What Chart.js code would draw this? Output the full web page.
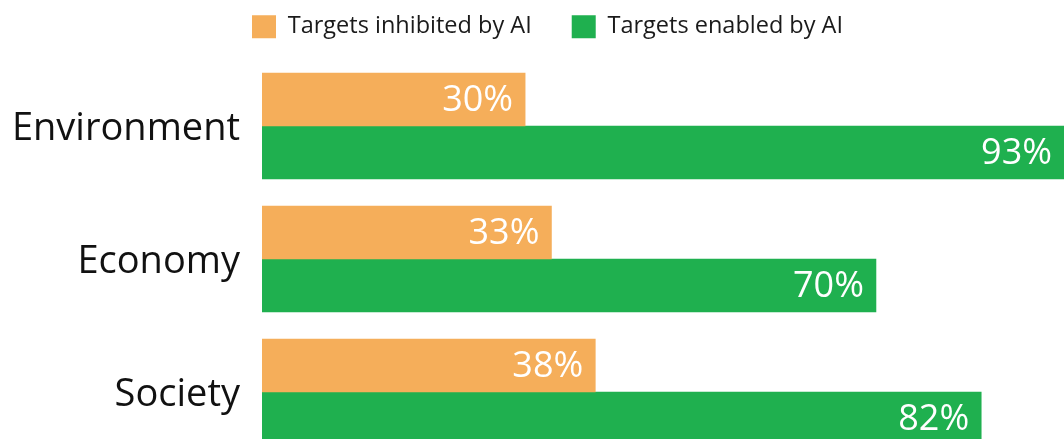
<!DOCTYPE html>
<html>
<head>
<meta charset="utf-8">
<script src="https://cdn.jsdelivr.net/npm/chart.js@4/dist/chart.umd.min.js"></script>
<style>
  html, body { margin: 0; padding: 0; background: #ffffff; overflow: hidden; }
  #wrap { width: 1064px; height: 470px; position: relative; }
  canvas { display: block; }
</style>
</head>
<body>
<div id="wrap"><canvas id="c" width="1064" height="470"></canvas></div>
<script>
const categories = ['Environment', 'Economy', 'Society'];
const inhibitedValues = [30, 33, 38];
const enabledValues = [93, 70, 82];
const seriesNames = ['Targets inhibited by AI', 'Targets enabled by AI'];

const FONT = "'Open Sans', 'Noto Sans', sans-serif";

const legendFix = {
  id: 'legendFix',
  beforeLayout(chart) {
    const lg = chart.legend;
    if (lg && !lg._fixed) {
      const orig = lg.fit;
      lg.fit = function () { orig.call(this); this.height = 84.5; };
      lg._fixed = true;
    }
  },
  afterLayout(chart) {
    const lg = chart.legend;
    if (!lg || !lg.lineWidths) return;
    const p = lg.options.labels.padding;
    const start = (lg.left + p + lg.right - lg.lineWidths[0]) / 2;
    const dx = 252 - start;
    lg.left += dx;
    lg.right += dx;
  }
};

const valueLabels = {
  id: 'valueLabels',
  afterDatasetsDraw(chart) {
    const ctx = chart.ctx;
    ctx.save();
    ctx.font = '36px ' + FONT;
    ctx.fillStyle = '#ffffff';
    ctx.textAlign = 'right';
    ctx.textBaseline = 'middle';
    chart.data.datasets.forEach((ds, i) => {
      const meta = chart.getDatasetMeta(i);
      meta.data.forEach((bar, j) => {
        const x = Math.min(bar.x, chart.chartArea.right) - 12;
        ctx.fillText(ds.data[j] + '%', x, bar.y + 1);
      });
    });
    ctx.restore();
  }
};

new Chart(document.getElementById('c'), {
  type: 'bar',
  data: {
    labels: categories,
    datasets: [
      { label: seriesNames[0], data: inhibitedValues, backgroundColor: '#F5AE5A', borderWidth: 0, barThickness: 53 },
      { label: seriesNames[1], data: enabledValues, backgroundColor: '#1FB04F', borderWidth: 0, barThickness: 53 }
    ]
  },
  options: {
    indexAxis: 'y',
    responsive: false,
    animation: false,
    layout: { padding: { top: -25, left: 0, right: 0, bottom: 11.5 } },
    scales: {
      x: { display: false, min: 0, max: 91.44 },
      y: {
        afterFit(scale) { scale.width = 262; scale.paddingTop = 0; scale.paddingBottom = 0; },
        border: { display: false },
        grid: { display: false, drawTicks: false },
        ticks: { color: '#111111', font: { family: FONT, size: 38 }, padding: 22, labelOffset: 3 }
      }
    },
    plugins: {
      legend: {
        position: 'top',
        labels: {
          boxWidth: 24, boxHeight: 23, padding: 40,
          color: '#1a1a1a',
          font: { family: FONT, size: 23.5 }
        }
      },
      tooltip: { enabled: false }
    }
  },
  plugins: [legendFix, valueLabels]
});
</script>
</body>
</html>
